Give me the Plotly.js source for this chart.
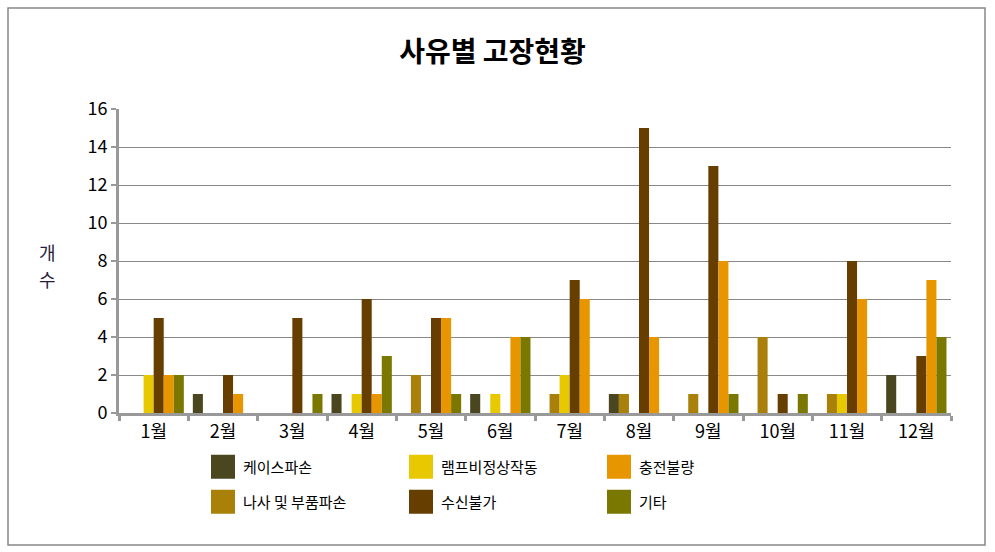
<!DOCTYPE html>
<html>
<head>
<meta charset="utf-8">
<script src="https://cdn.plot.ly/plotly-3.0.1.min.js"></script>
<style>
html,body{margin:0;padding:0;background:#fff;}
#chart{width:995px;height:552px;}
</style>
</head>
<body>
<div id="chart"></div>
<script>
const months = ["1월","2월","3월","4월","5월","6월","7월","8월","9월","10월","11월","12월"];
const caseBroken   = [0,1,0,1,0,1,0,1,0,0,0,2];   // 케이스파손
const screwBroken  = [0,0,0,0,2,0,1,1,1,4,1,0];   // 나사 및 부품파손
const lampFault    = [2,0,0,1,0,1,2,0,0,0,1,0];   // 램프비정상작동
const noReception  = [5,2,5,6,5,0,7,15,13,1,8,3]; // 수신불가
const chargeFault  = [2,1,0,1,5,4,6,4,8,0,6,7];   // 충전불량
const others       = [2,0,1,3,1,4,0,0,1,1,0,4];   // 기타
const yTicks = [0,2,4,6,8,10,12,14,16];

const series = [
  {name:"케이스파손", y:caseBroken, color:"#4a461f", legend:"legend", rank:1},
  {name:"나사 및 부품파손", y:screwBroken, color:"#a8800a", legend:"legend2", rank:4},
  {name:"램프비정상작동", y:lampFault, color:"#e8c800", legend:"legend", rank:2},
  {name:"수신불가", y:noReception, color:"#663e00", legend:"legend2", rank:5},
  {name:"충전불량", y:chargeFault, color:"#e89600", legend:"legend", rank:3},
  {name:"기타", y:others, color:"#7a7800", legend:"legend2", rank:6}
];

const traces = series.map(s => ({
  type:"bar", x:months, y:s.y, name:s.name,
  marker:{color:s.color, line:{width:0}},
  legend:s.legend, legendrank:s.rank, hoverinfo:"x+y+name"
}));

const font = "'Noto Sans CJK KR', 'Noto Sans', sans-serif";
const legendCommon = {
  orientation:"h", xref:"container", yref:"container",
  xanchor:"left", yanchor:"middle",
  entrywidth:153, entrywidthmode:"pixels",
  font:{family:font, size:15, color:"#000"},
  bgcolor:"rgba(0,0,0,0)", itemwidth:30, traceorder:"normal"
};

const layout = {
  width:995, height:552,
  paper_bgcolor:"#fff", plot_bgcolor:"#fff",
  margin:{l:119, r:44, t:109, b:139},
  font:{family:font, color:"#000"},
  title:{text:"<b>사유별 고장현황</b>", font:{family:font, size:28, color:"#000"},
         x:0.495, xref:"container", y:1-52/552, yref:"container", yanchor:"middle"},
  barmode:"group", bargap:0.13, bargroupgap:0,
  xaxis:{type:"category", showline:true, linecolor:"#999", linewidth:3,
         ticks:"outside", tickson:"boundaries", ticklen:5, tickwidth:3, tickcolor:"#999",
         tickfont:{family:font, size:18, color:"#000"}, showgrid:false, zeroline:false},
  yaxis:{range:[0,16], tickvals:yTicks, showline:true, linecolor:"#999", linewidth:3,
         ticks:"outside", ticklen:5, tickwidth:2, tickcolor:"#999",
         showgrid:true, gridcolor:"#888", gridwidth:1, zeroline:false,
         tickfont:{family:font, size:18, color:"#000"}},
  legend:Object.assign({x:203/995, y:1-467/552}, legendCommon),
  legend2:Object.assign({x:203/995, y:1-502/552}, legendCommon),
  annotations:[
    {text:"개", xref:"paper", yref:"paper", x:(47-119)/832, y:(413-252)/304,
     xanchor:"center", yanchor:"middle", showarrow:false,
     font:{family:font, size:18, color:"#2a1a3c"}},
    {text:"수", xref:"paper", yref:"paper", x:(47-119)/832, y:(413-279)/304,
     xanchor:"center", yanchor:"middle", showarrow:false,
     font:{family:font, size:18, color:"#2a1a3c"}}
  ],
  shapes:[{type:"rect", xref:"paper", yref:"paper",
    x0:(8-119)/832, x1:(985-119)/832, y0:(413-545)/304, y1:(413-8)/304,
    line:{color:"#888", width:1.5}, fillcolor:"rgba(0,0,0,0)", layer:"below"}],
  showlegend:true
};

function enlargeLegendSymbols(){
  document.querySelectorAll('#chart .legendpoints path').forEach(p => {
    if (p.dataset.enlarged) return;
    const t = p.getAttribute('transform') || '';
    p.setAttribute('transform', t + ' scale(2)');
    p.dataset.enlarged = '1';
  });
}
const gd = document.getElementById('chart');
Plotly.newPlot(gd, traces, layout, {displayModeBar:false, staticPlot:true}).then(() => {
  enlargeLegendSymbols();
  gd.on('plotly_afterplot', enlargeLegendSymbols);
});
</script>
</body>
</html>
